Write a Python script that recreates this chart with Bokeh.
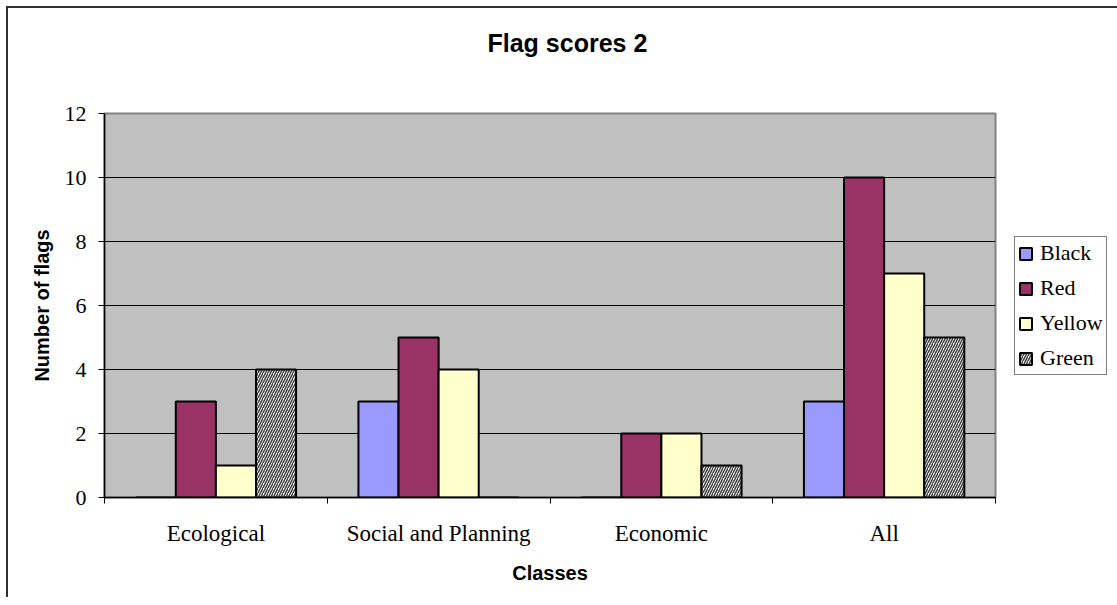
from bokeh.plotting import figure
from bokeh.models import FixedTicker, Legend, LegendItem, ColumnDataSource, Title
from bokeh.embed import file_html
from bokeh.resources import INLINE

# ---- data ----
categories = ["Ecological", "Social and Planning", "Economic", "All"]
series_names = ["Black", "Red", "Yellow", "Green"]
black_vals = [0, 3, 0, 3]
red_vals = [3, 5, 2, 10]
yellow_vals = [1, 4, 2, 7]
green_vals = [4, 0, 1, 5]
y_ticks = [0, 2, 4, 6, 8, 10, 12]

series_values = [black_vals, red_vals, yellow_vals, green_vals]
series_colors = ["#9999FF", "#993366", "#FFFFCC", "#FFFFFF"]
bar_w = 0.18
offsets = [-1.5 * bar_w, -0.5 * bar_w, 0.5 * bar_w, 1.5 * bar_w]

p = figure(frame_width=891, frame_height=384, x_range=(0, 4), y_range=(0, 12),
           output_backend="svg", toolbar_location=None, title=None,
           min_border_left=96, min_border_top=105, min_border_bottom=100,
           min_border_right=122)
p.styles = {"border-top": "2px solid #303030", "border-left": "2px solid #303030",
            "margin-left": "6px", "margin-top": "6px"}

# spacer between the frame and the title
spacer = Title(text=" ", text_font_size="14px", standoff=34)
p.add_layout(spacer, "above")
title = Title(text="Flag scores 2", align="left",
              text_font="Liberation Sans",
              text_font_size="25px", text_font_style="bold", text_color="black",
              standoff=10, offset=383)
p.add_layout(title, "above")

p.background_fill_color = "#C0C0C0"
p.border_fill_color = "white"
p.outline_line_color = "#808080"
p.outline_line_width = 2

items = []
for name, vals, col, off in zip(series_names, series_values, series_colors, offsets):
    src = ColumnDataSource(dict(x=[i + 0.5 + off for i in range(len(categories))], top=vals))
    kw = {}
    if name == "Green":
        kw = dict(hatch_pattern="/", hatch_color="#404040",
                  hatch_scale=5, hatch_weight=1.5)
    r = p.vbar(x="x", top="top", width=bar_w, source=src, fill_color=col,
               line_color="black", line_width=2, **kw)
    items.append(LegendItem(label=name, renderers=[r]))

# x axis: labels at group centres, tick marks at group boundaries
xa = p.xaxis[0]
xa.ticker = FixedTicker(ticks=[i + 0.5 for i in range(len(categories))],
                        minor_ticks=list(range(len(categories) + 1)))
xa.major_label_overrides = {i + 0.5: c for i, c in enumerate(categories)}
xa.major_tick_out = 0
xa.major_tick_in = 0
xa.minor_tick_out = 6
xa.minor_tick_in = 0
xa.minor_tick_line_color = "black"
xa.axis_line_color = "black"
xa.axis_line_width = 1.5
xa.major_label_text_font = "Liberation Serif"
xa.major_label_text_font_size = "23px"
xa.major_label_text_color = "black"
xa.major_label_standoff = 17
xa.axis_label = "Classes"
xa.axis_label_text_font = "Liberation Sans"
xa.axis_label_text_font_size = "20px"
xa.axis_label_text_font_style = "bold"
xa.axis_label_text_color = "black"
xa.axis_label_standoff = 13

ya = p.yaxis[0]
ya.ticker = FixedTicker(ticks=y_ticks)
ya.major_tick_out = 6
ya.major_tick_in = 0
ya.minor_tick_line_color = None
ya.major_tick_line_color = "black"
ya.axis_line_color = "black"
ya.axis_line_width = 1.5
ya.major_label_text_font = "Liberation Serif"
ya.major_label_text_font_size = "22px"
ya.major_label_text_color = "black"
ya.major_label_standoff = 12
ya.axis_label = "Number of flags"
ya.axis_label_text_font = "Liberation Sans"
ya.axis_label_text_font_size = "20px"
ya.axis_label_text_font_style = "bold"
ya.axis_label_text_color = "black"
ya.axis_label_standoff = 9

p.xgrid.grid_line_color = None
p.ygrid.grid_line_color = "black"
p.ygrid.grid_line_width = 1

legend = Legend(items=items, location=(19, 122))
legend.border_line_color = "black"
legend.border_line_width = 1
legend.background_fill_color = "white"
legend.background_fill_alpha = 1
legend.label_text_font = "Liberation Serif"
legend.label_text_font_size = "22px"
legend.label_text_color = "black"
legend.glyph_width = 15
legend.glyph_height = 15
legend.label_standoff = 7
legend.spacing = 9
legend.padding = 3
legend.margin = 0
p.add_layout(legend, "right")

open("out.html", "w").write(file_html(p, INLINE))
